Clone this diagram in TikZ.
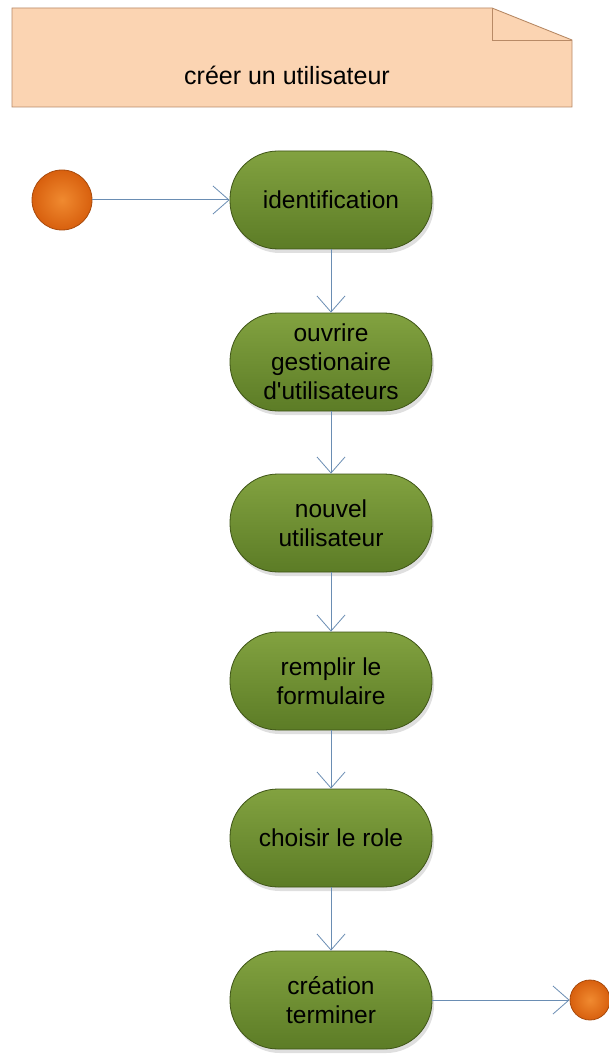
\documentclass[tikz,border=0pt]{standalone}
\usepackage{fontspec}
\setmainfont{Liberation Sans}
\usetikzlibrary{arrows.meta,shadows}
\definecolor{notefill}{HTML}{FBD4B2}
\definecolor{noteline}{HTML}{B88A66}
\definecolor{acttop}{HTML}{82A240}
\definecolor{actbot}{HTML}{5C7C26}
\definecolor{actline}{HTML}{3E5416}
\definecolor{dotin}{HTML}{F08A30}
\definecolor{dotout}{HTML}{D8600E}
\definecolor{dotline}{HTML}{A84A0C}
\definecolor{flow}{HTML}{6A8DB3}
\tikzset{
  activity/.style={draw=actline, line width=0.8pt, top color=acttop, bottom color=actbot,
    rounded corners=48pt, minimum width=202pt, minimum height=98pt,
    align=center, font=\fontsize{24.5}{29}\selectfont, text=black,
    drop shadow={shadow xshift=2pt, shadow yshift=-4pt, opacity=0.25, fill=gray}},
  startdot/.style={circle, draw=dotline, line width=0.8pt, inner color=dotin, outer color=dotout, minimum size=#1, inner sep=0pt},
  flowline/.style={draw=flow, line width=1pt, -{Straight Barb[length=16pt,width=28pt,line width=0.8pt]}},
}
\begin{document}
\begin{tikzpicture}[x=1pt,y=-1pt]
\useasboundingbox (0,0) rectangle (609,1056);
\fill[white] (0,0) rectangle (609,1056);

% note with folded corner
\draw[noteline, line width=0.9pt, fill=notefill]
  (12,8) -- (492,8) -- (572,40) -- (572,107) -- (12,107) -- cycle;
\draw[noteline, line width=0.9pt] (492,8) -- (492,40) -- (572,40);
\node[font=\fontsize{25}{29}\selectfont] (title) at (287,75) {créer un utilisateur};

% start and end points
\node[startdot=60pt] (start) at (62,200) {};
\node[startdot=40pt] (finish) at (590,1000) {};

% activities
\node[activity] (a1) at (331,200) {identification};
\node[activity] (a2) at (331,362) {ouvrire\\gestionaire\\d\textquotesingle utilisateurs};
\node[activity] (a3) at (331,523) {nouvel\\utilisateur};
\node[activity] (a4) at (331,681) {remplir le\\formulaire};
\node[activity] (a5) at (331,838) {choisir le role};
\node[activity] (a6) at (331,1000) {création\\terminer};

% control flow
\path[flowline] (start) -- (a1);
\path[flowline] (a1) -- (a2);
\path[flowline] (a2) -- (a3);
\path[flowline] (a3) -- (a4);
\path[flowline] (a4) -- (a5);
\path[flowline] (a5) -- (a6);
\path[flowline] (a6) -- (finish);
\end{tikzpicture}
\end{document}
